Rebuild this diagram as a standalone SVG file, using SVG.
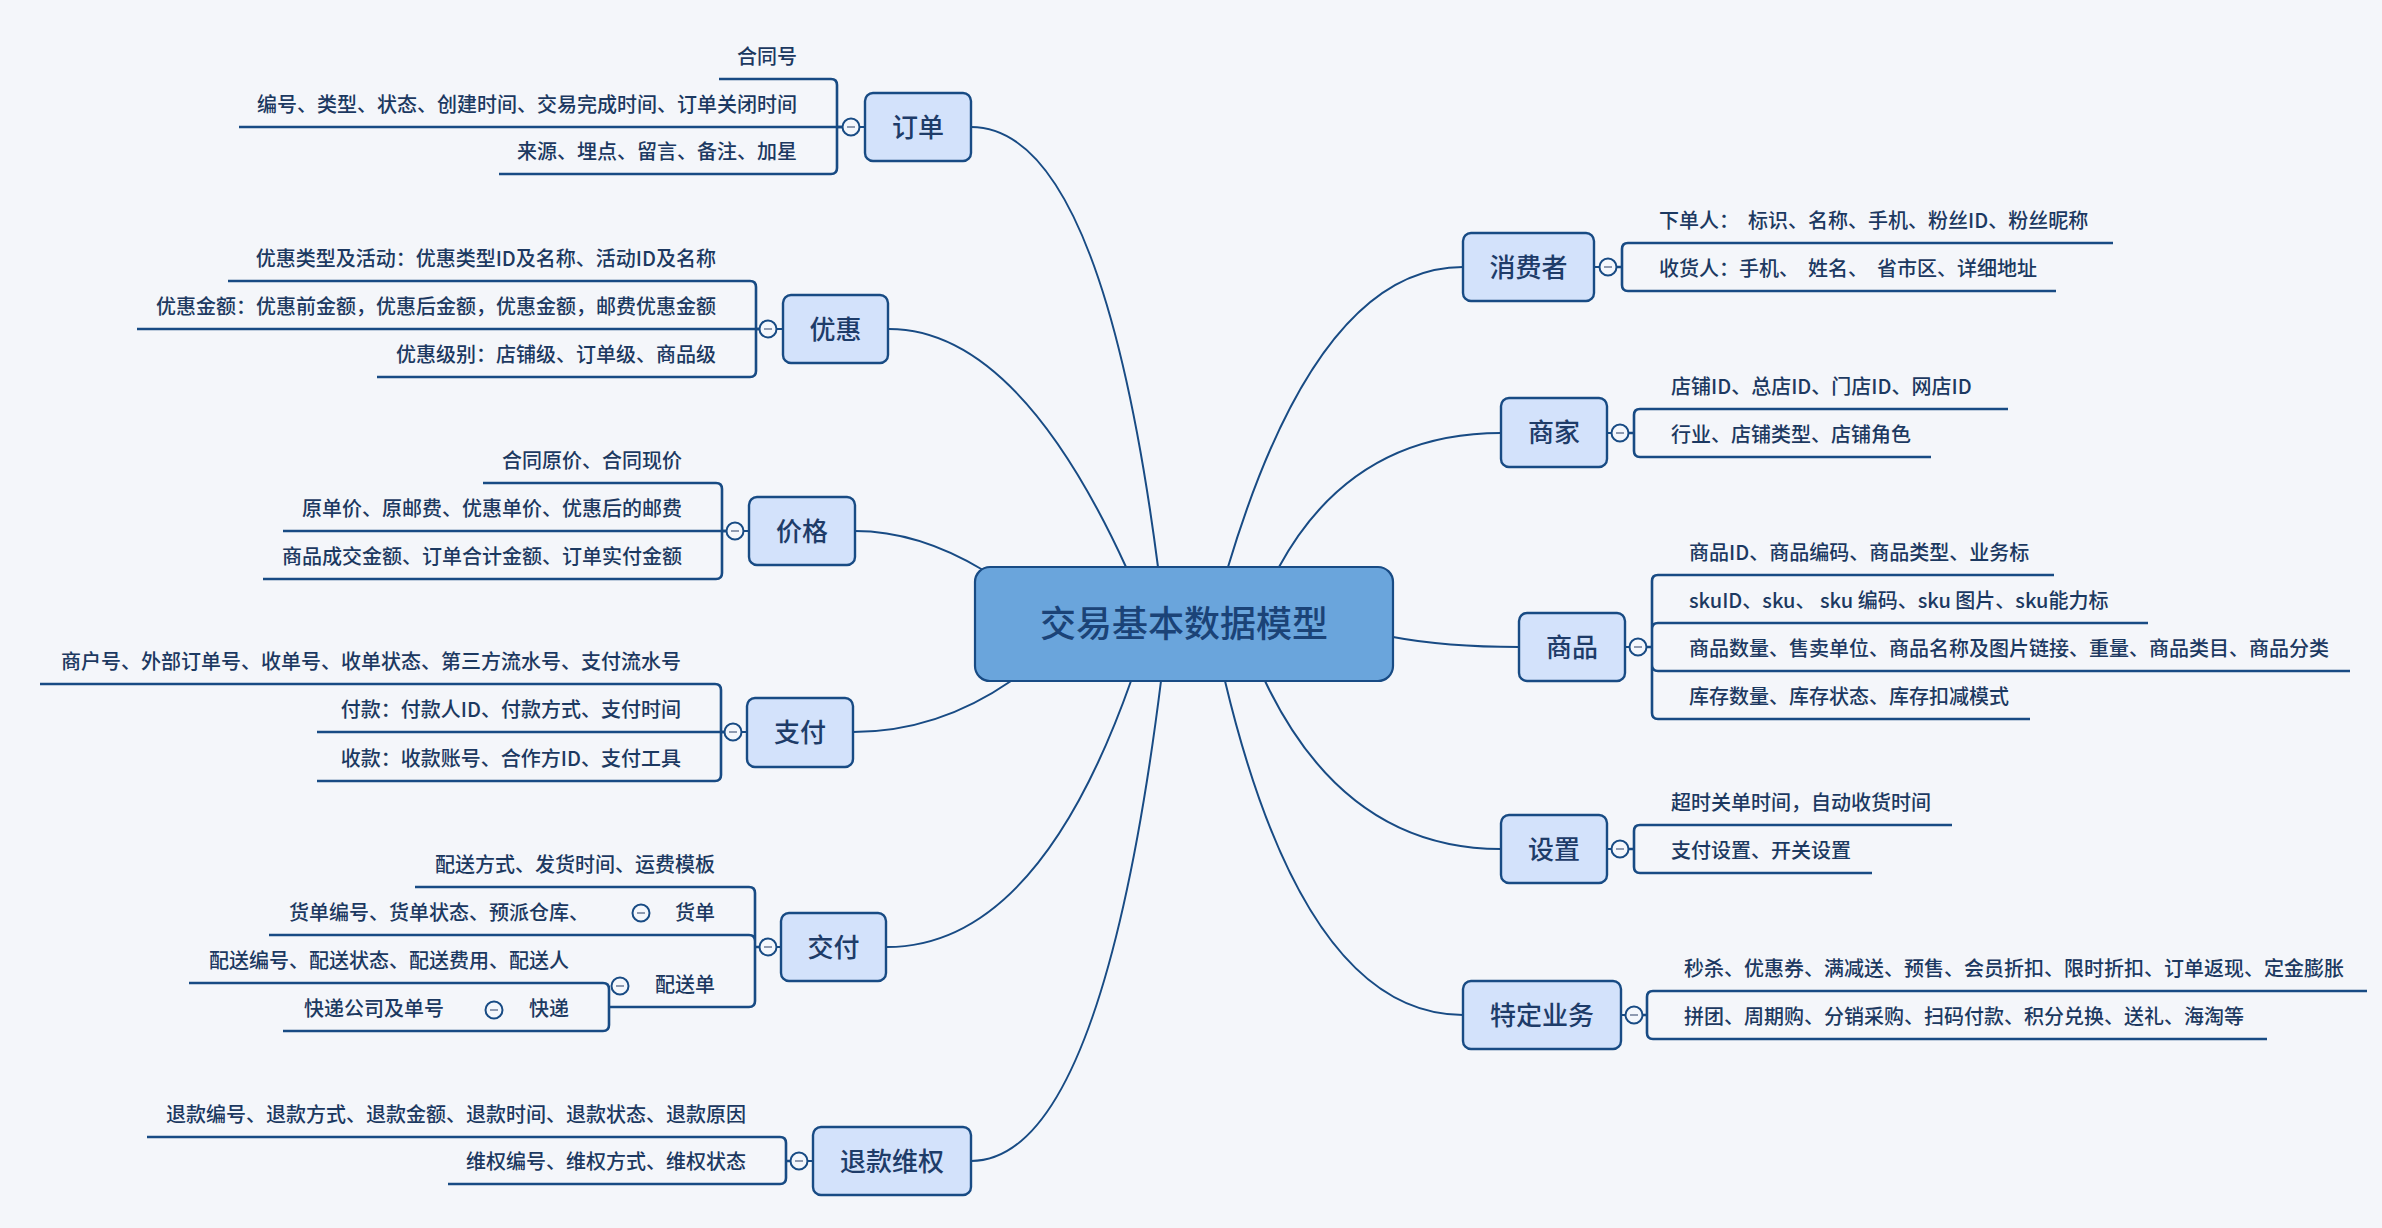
<svg xmlns="http://www.w3.org/2000/svg" width="2382" height="1228" viewBox="0 0 2382 1228">
<defs>
<style>
.bg{fill:#f4f6fa}
.c{fill:none;stroke:#184b84;stroke-width:2}
.u{fill:none;stroke:#184b84;stroke-width:2.6}
.b{fill:none;stroke:#184b84;stroke-width:2.6}
.nd rect{fill:#d3e2fb;stroke:#184b84;stroke-width:2.4}
.t{font-family:"Noto Sans CJK SC","Noto Sans",sans-serif;font-size:20px;font-weight:500;fill:#1c3961}
.tl{text-anchor:end}
.tt{font-family:"Noto Sans CJK SC","Noto Sans",sans-serif;font-size:26px;font-weight:500;fill:#1e3c69;text-anchor:middle}
.bc{fill:#f4f7fc;stroke:#184b84;stroke-width:2}
.bm{stroke:#8e9ab0;stroke-width:2;fill:none}
</style>
<g id="btn"><circle class="bc" r="8.5"/><path class="bm" d="M-4,0H4"/></g>
</defs>
<rect class="bg" x="0" y="0" width="2382" height="1228"/>

<g id="connectors">
<path class="c" d="M971,127 Q1101,127 1158,567"/>
<path class="c" d="M889,329 Q1017,329 1126,567"/>
<path class="c" d="M855,531 Q918,531 983,570"/>
<path class="c" d="M853,732 Q937,732 1011,681"/>
<path class="c" d="M887,947 Q1037,947 1131,681"/>
<path class="c" d="M971,1161 Q1101,1161 1161,681"/>
<path class="c" d="M1463,267 Q1318,267 1228,567"/>
<path class="c" d="M1501,433 Q1352,433 1279,567"/>
<path class="c" d="M1519,647 Q1445,647 1393,637"/>
<path class="c" d="M1501,849 Q1345,849 1265,681"/>
<path class="c" d="M1463,1015 Q1305,1015 1225,681"/>
<path class="c" d="M859,127H865 M776,329H783 M743,531H749 M741,732H747 M776,947H781 M807,1161H813"/>
<path class="c" d="M1594,267H1600 M1607,433H1612 M1625,647H1630 M1607,849H1612 M1621,1015H1626"/>
<path class="b" d="M842,127H837 M837,127V85Q837,79 831,79 M837,127V168Q837,174 831,174"/>
<path class="b" d="M760,329H756 M756,329V287Q756,281 750,281 M756,329V371Q756,377 750,377"/>
<path class="b" d="M727,531H722 M722,531V489Q722,483 716,483 M722,531V573Q722,579 716,579"/>
<path class="b" d="M725,732H721 M721,732V690Q721,684 715,684 M721,732V775Q721,781 715,781"/>
<path class="b" d="M760,947H755 M755,947V893Q755,887 749,887 M755,947V941Q755,935 749,935 M755,947V1001Q755,1007 749,1007"/>
<path class="b" d="M609,1007V989Q609,983 603,983 M609,1007V1025Q609,1031 603,1031"/>
<path class="b" d="M791,1161H786 M786,1161V1143Q786,1137 780,1137 M786,1161V1178Q786,1184 780,1184"/>
<path class="b" d="M1616,267H1622 M1622,267V249Q1622,243 1628,243 M1622,267V285Q1622,291 1628,291"/>
<path class="b" d="M1628,433H1634 M1634,433V415Q1634,409 1640,409 M1634,433V451Q1634,457 1640,457"/>
<path class="b" d="M1646,647H1652 M1652,647V581Q1652,575 1658,575 M1652,647V629Q1652,623 1658,623 M1652,647V665Q1652,671 1658,671 M1652,647V713Q1652,719 1658,719"/>
<path class="b" d="M1628,849H1634 M1634,849V831Q1634,825 1640,825 M1634,849V867Q1634,873 1640,873"/>
<path class="b" d="M1642,1015H1647 M1647,1015V997Q1647,991 1653,991 M1647,1015V1033Q1647,1039 1653,1039"/>
</g>

<g id="center">
<rect x="975" y="567" width="418" height="114" rx="15" fill="#6aa5dc" stroke="#184b84" stroke-width="2.2"/>
<text x="1184" y="637" font-family="'Noto Sans CJK SC','Noto Sans',sans-serif" font-size="36" font-weight="500" fill="#1b4377" text-anchor="middle">交易基本数据模型</text>
</g>

<g id="n-dingdan" class="nd">
<rect x="865" y="93" width="106" height="68" rx="8"/>
<text class="tt" x="918" y="136.5">订单</text>
<use href="#btn" x="851" y="127"/>
<g id="l-hetonghao"><path class="u" d="M831,79H719"/><text class="t tl" x="797" y="64">合同号</text></g>
<g id="l-bianhao"><path class="u" d="M842,127H239"/><text class="t tl" x="797" y="112">编号、类型、状态、创建时间、交易完成时间、订单关闭时间</text></g>
<g id="l-laiyuan"><path class="u" d="M831,174H499"/><text class="t tl" x="797" y="159">来源、埋点、留言、备注、加星</text></g>
</g>

<g id="n-youhui" class="nd">
<rect x="783" y="295" width="105" height="68" rx="8"/>
<text class="tt" x="835.5" y="338.5">优惠</text>
<use href="#btn" x="768" y="329"/>
<g id="l-yh1"><path class="u" d="M750,281H228"/><text class="t tl" x="716" y="266">优惠类型及活动：优惠类型ID及名称、活动ID及名称</text></g>
<g id="l-yh2"><path class="u" d="M760,329H137"/><text class="t tl" x="716" y="314">优惠金额：优惠前金额，优惠后金额，优惠金额，邮费优惠金额</text></g>
<g id="l-yh3"><path class="u" d="M750,377H377"/><text class="t tl" x="716" y="362">优惠级别：店铺级、订单级、商品级</text></g>
</g>

<g id="n-jiage" class="nd">
<rect x="749" y="497" width="106" height="68" rx="8"/>
<text class="tt" x="802" y="540.5">价格</text>
<use href="#btn" x="735" y="531"/>
<g id="l-jg1"><path class="u" d="M716,483H483"/><text class="t tl" x="682" y="468">合同原价、合同现价</text></g>
<g id="l-jg2"><path class="u" d="M727,531H283"/><text class="t tl" x="682" y="516">原单价、原邮费、优惠单价、优惠后的邮费</text></g>
<g id="l-jg3"><path class="u" d="M716,579H263"/><text class="t tl" x="682" y="564">商品成交金额、订单合计金额、订单实付金额</text></g>
</g>

<g id="n-zhifu" class="nd">
<rect x="747" y="698" width="106" height="69" rx="8"/>
<text class="tt" x="800" y="742">支付</text>
<use href="#btn" x="733" y="732"/>
<g id="l-zf1"><path class="u" d="M715,684H40"/><text class="t tl" x="681" y="669">商户号、外部订单号、收单号、收单状态、第三方流水号、支付流水号</text></g>
<g id="l-zf2"><path class="u" d="M725,732H317"/><text class="t tl" x="681" y="717">付款：付款人ID、付款方式、支付时间</text></g>
<g id="l-zf3"><path class="u" d="M715,781H317"/><text class="t tl" x="681" y="766">收款：收款账号、合作方ID、支付工具</text></g>
</g>

<g id="n-jiaofu" class="nd">
<rect x="781" y="913" width="105" height="68" rx="8"/>
<text class="tt" x="833.5" y="956.5">交付</text>
<use href="#btn" x="768" y="947"/>
<g id="l-jf1"><path class="u" d="M749,887H415"/><text class="t tl" x="715" y="872">配送方式、发货时间、运费模板</text></g>
<g id="l-huodan"><path class="u" d="M749,935H269"/><text class="t tl" x="715" y="920">货单</text><use href="#btn" x="641" y="913"/>
<g id="l-huodan-c"><text class="t" x="289" y="920">货单编号、货单状态、预派仓库、</text></g></g>
<g id="l-peisongdan"><path class="u" d="M749,1007H609"/><text class="t tl" x="715" y="992">配送单</text><use href="#btn" x="620" y="986"/>
<g id="l-ps1"><path class="u" d="M603,983H189"/><text class="t tl" x="569" y="968">配送编号、配送状态、配送费用、配送人</text></g>
<g id="l-kuaidi"><path class="u" d="M603,1031H283"/><text class="t tl" x="569" y="1016">快递</text><use href="#btn" x="494" y="1010"/>
<g id="l-kuaidi-c"><text class="t" x="304" y="1016">快递公司及单号</text></g></g>
</g>
</g>

<g id="n-tuikuan" class="nd">
<rect x="813" y="1127" width="158" height="68" rx="8"/>
<text class="tt" x="892" y="1170.5">退款维权</text>
<use href="#btn" x="799" y="1161"/>
<g id="l-tk1"><path class="u" d="M780,1137H147"/><text class="t tl" x="746" y="1122">退款编号、退款方式、退款金额、退款时间、退款状态、退款原因</text></g>
<g id="l-tk2"><path class="u" d="M780,1184H448"/><text class="t tl" x="746" y="1169">维权编号、维权方式、维权状态</text></g>
</g>

<g id="n-xiaofeizhe" class="nd">
<rect x="1463" y="233" width="131" height="68" rx="8"/>
<text class="tt" x="1528.5" y="276.5">消费者</text>
<use href="#btn" x="1608" y="267"/>
<g id="l-xf1"><path class="u" d="M1628,243H2113"/><text class="t" x="1659" y="228" xml:space="preserve">下单人：  标识、名称、手机、粉丝ID、粉丝昵称</text></g>
<g id="l-xf2"><path class="u" d="M1628,291H2056"/><text class="t" x="1659" y="276" xml:space="preserve">收货人：手机、  姓名、  省市区、详细地址</text></g>
</g>

<g id="n-shangjia" class="nd">
<rect x="1501" y="398" width="106" height="69" rx="8"/>
<text class="tt" x="1554" y="442">商家</text>
<use href="#btn" x="1620" y="433"/>
<g id="l-sj1"><path class="u" d="M1640,409H2008"/><text class="t" x="1671" y="394">店铺ID、总店ID、门店ID、网店ID</text></g>
<g id="l-sj2"><path class="u" d="M1640,457H1931"/><text class="t" x="1671" y="442">行业、店铺类型、店铺角色</text></g>
</g>

<g id="n-shangpin" class="nd">
<rect x="1519" y="613" width="106" height="68" rx="8"/>
<text class="tt" x="1572" y="656.5">商品</text>
<use href="#btn" x="1638" y="647"/>
<g id="l-sp1"><path class="u" d="M1658,575H2054"/><text class="t" x="1689" y="560">商品ID、商品编码、商品类型、业务标</text></g>
<g id="l-sp2"><path class="u" d="M1658,623H2148"/><text class="t" x="1689" y="608" xml:space="preserve">skuID、sku、 sku 编码、sku 图片、sku能力标</text></g>
<g id="l-sp3"><path class="u" d="M1658,671H2350"/><text class="t" x="1689" y="656">商品数量、售卖单位、商品名称及图片链接、重量、商品类目、商品分类</text></g>
<g id="l-sp4"><path class="u" d="M1658,719H2030"/><text class="t" x="1689" y="704">库存数量、库存状态、库存扣减模式</text></g>
</g>

<g id="n-shezhi" class="nd">
<rect x="1501" y="815" width="106" height="68" rx="8"/>
<text class="tt" x="1554" y="858.5">设置</text>
<use href="#btn" x="1620" y="849"/>
<g id="l-sz1"><path class="u" d="M1640,825H1952"/><text class="t" x="1671" y="810">超时关单时间，自动收货时间</text></g>
<g id="l-sz2"><path class="u" d="M1640,873H1872"/><text class="t" x="1671" y="858">支付设置、开关设置</text></g>
</g>

<g id="n-teding" class="nd">
<rect x="1463" y="981" width="158" height="68" rx="8"/>
<text class="tt" x="1542" y="1024.5">特定业务</text>
<use href="#btn" x="1634" y="1015"/>
<g id="l-td1"><path class="u" d="M1653,991H2367"/><text class="t" x="1684" y="976">秒杀、优惠券、满减送、预售、会员折扣、限时折扣、订单返现、定金膨胀</text></g>
<g id="l-td2"><path class="u" d="M1653,1039H2267"/><text class="t" x="1684" y="1024">拼团、周期购、分销采购、扫码付款、积分兑换、送礼、海淘等</text></g>
</g>
</svg>
